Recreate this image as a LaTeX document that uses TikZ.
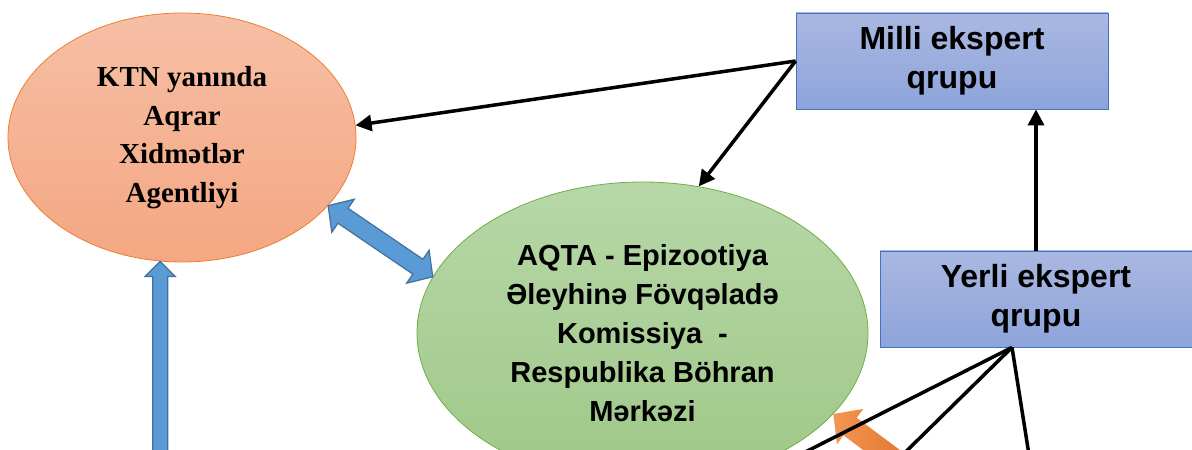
\documentclass[tikz,border=0pt]{standalone}
\usepackage{fontspec}
\setmainfont{Liberation Serif}
\setsansfont{Liberation Sans}
\usetikzlibrary{arrows.meta, calc, shapes.geometric}

\definecolor{agencytop}{RGB}{246,191,165}
\definecolor{agencybot}{RGB}{244,167,130}
\definecolor{agencyedge}{RGB}{237,125,49}
\definecolor{crisistop}{RGB}{183,215,168}
\definecolor{crisisbot}{RGB}{159,200,135}
\definecolor{crisisedge}{RGB}{112,173,71}
\definecolor{grouptop}{RGB}{170,184,226}
\definecolor{groupbot}{RGB}{141,164,218}
\definecolor{groupedge}{RGB}{68,114,196}
\definecolor{fatblue}{RGB}{91,155,213}
\definecolor{fatedge}{RGB}{65,113,156}
\definecolor{fatlight}{RGB}{243,150,82}
\definecolor{fatdark}{RGB}{220,104,32}

% block arrow: style, tail, tip, half shaft, half head, head length
\newcommand{\fatarrow}[6]{%
  \coordinate (fa) at ($(#3)!#6!(#2)$);
  \path[#1] ($(#2)!#4!90:(#3)$) -- ($(fa)!#4!90:(#3)$) -- ($(fa)!#5!90:(#3)$) -- (#3)
    -- ($(fa)!#5!-90:(#3)$) -- ($(fa)!#4!-90:(#3)$) -- ($(#2)!#4!-90:(#3)$) -- cycle;
}
% block arrow with two heads
\newcommand{\fatdarrow}[6]{%
  \coordinate (fa) at ($(#3)!#6!(#2)$);
  \coordinate (fb) at ($(#2)!#6!(#3)$);
  \path[#1] (#2) -- ($(fb)!#5!90:(#3)$) -- ($(fb)!#4!90:(#3)$) -- ($(fa)!#4!90:(#3)$)
    -- ($(fa)!#5!90:(#3)$) -- (#3) -- ($(fa)!#5!-90:(#3)$) -- ($(fa)!#4!-90:(#3)$)
    -- ($(fb)!#4!-90:(#3)$) -- ($(fb)!#5!-90:(#3)$) -- cycle;
}

\begin{document}
\begin{tikzpicture}[x=1pt, y=1pt,
	agency/.style={ellipse, draw=agencyedge, thick, top color=agencytop, bottom color=agencybot,
		minimum width=348pt, minimum height=249pt, inner sep=0pt, align=center,
		font=\bfseries\fontsize{29}{38.7}\selectfont},
	crisis/.style={ellipse, draw=crisisedge, thick, top color=crisistop, bottom color=crisisbot,
		minimum width=451pt, minimum height=302pt, inner sep=0pt, align=center,
		font=\sffamily\bfseries\fontsize{29}{39}\selectfont},
	group/.style={rectangle, draw=groupedge, thick, top color=grouptop, bottom color=groupbot,
		minimum width=312pt, minimum height=96pt, inner sep=0pt, align=center,
		font=\sffamily\bfseries\fontsize{32}{39}\selectfont},
	link/.style={line width=3.5pt, -{Triangle[length=16pt,width=16pt]}},
	plain/.style={line width=3.5pt},
	bluearrow/.style={fill=fatblue, draw=fatedge, line width=1.2pt},
	orangearrow/.style={left color=fatlight, right color=fatdark}]

	\useasboundingbox (0,0) rectangle (1192,450);
	\clip (0,0) rectangle (1192,450);

	% Define nodes
	\node[agency] (orange) at (182,312.5) {KTN yanında\\Aqrar\\Xidmətlər\\Agentliyi};
	\node[crisis] (green) at (642.5,117) {AQTA - Epizootiya\\Əleyhinə Fövqəladə\\Komissiya\ \ -\\Respublika Böhran\\Mərkəzi};
	\node[group] (milli) at (952,389) {Milli ekspert\\qrupu};
	\node[group] (yerli) at (1036,151) {Yerli ekspert\\qrupu};

	% Loose ends below the page
	\coordinate (vtip) at (orange.260);
	\coordinate (vtail) at (orange.260 |- 0,-30);
	\coordinate (otail) at (935,-40);
	\coordinate (hub) at ([xshift=-24pt]yerli.south);
	\coordinate (l1) at (750,-30);
	\coordinate (l2) at (877,-30);
	\coordinate (l3) at (1033,-30);

	% Block arrows
	\fatdarrow{bluearrow}{orange.-25}{green.165}{9pt}{20pt}{18pt}
	\fatarrow{bluearrow}{vtail}{vtip}{7.5pt}{15pt}{15pt}
	\fatarrow{orangearrow}{otail}{green.-23}{11pt}{22pt}{21pt}

	% Black connectors
	\draw[link] (milli.west) -- (orange.4);
	\draw[link] (milli.west) -- (green.69);
	\draw[link] (yerli.north) -- (yerli.north |- milli.south);
	\draw[plain] (hub) -- (l1);
	\draw[plain] (hub) -- (l2);
	\draw[plain] (hub) -- (l3);
\end{tikzpicture}
\end{document}
